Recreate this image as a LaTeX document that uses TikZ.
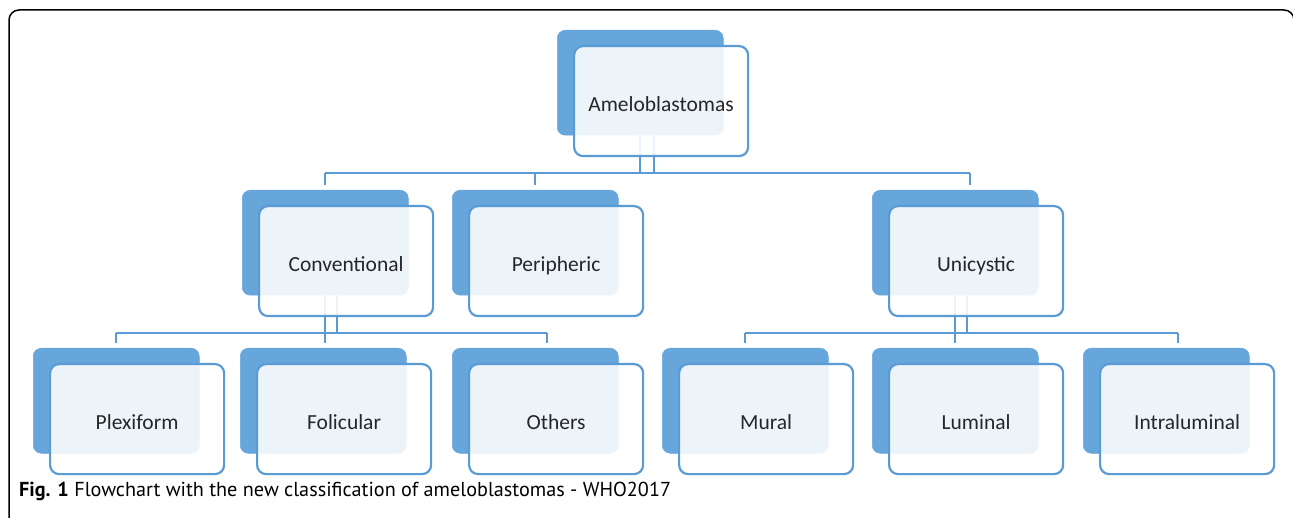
\documentclass[tikz,border=0pt]{standalone}
\usepackage{fontspec}
\setmainfont{Carlito}
\newfontfamily\capfont{PT Sans}
\definecolor{backblue}{RGB}{103,166,219}
\definecolor{lineblue}{RGB}{91,155,213}
\begin{document}
\begin{tikzpicture}[x=1pt,y=-1pt,
 backbox/.style={draw=backblue, fill=backblue, rounded corners=8pt, minimum width=166pt, minimum height=105pt, anchor=north west, inner sep=0pt, line width=0.5pt},
 frontbox/.style={draw=lineblue, line width=2.2pt, fill=white, fill opacity=0.88, text opacity=1, rounded corners=9pt, minimum width=174pt, minimum height=110pt, anchor=north west, inner sep=0pt, font=\fontsize{21.5}{24}\selectfont, text=black!85, text height=20pt, text depth=0pt},
 conn/.style={draw=lineblue, line width=2pt},
 drop/.style={conn, shorten >=5pt},
]
\useasboundingbox (0,0) rectangle (1293,518);
% outer frame
\draw[line width=1.5pt, rounded corners=10pt] (9,540) -- (9,10) -- (1294,10) -- (1294,540);

% back boxes
\node[backbox] (amb) at (557,30) {};
\node[backbox] (conb) at (242,190) {};
\node[backbox] (perb) at (452,190) {};
\node[backbox] (unib) at (872,190) {};
\node[backbox] (plxb) at (33,348) {};
\node[backbox] (folb) at (240,348) {};
\node[backbox] (othb) at (452,348) {};
\node[backbox] (murb) at (662,348) {};
\node[backbox] (lumb) at (872,348) {};
\node[backbox] (intb) at (1083,348) {};

% bus levels
\coordinate (bus1) at (0,173);
\coordinate (bus2) at (0,333);

% level 1 connectors
\draw[conn] (amb.south) -- (amb.south |- bus1);
\draw[conn] ([xshift=14pt]amb.south) -- ([xshift=14pt]amb.south |- bus1);
\draw[conn] (conb.north |- bus1) -- ([xshift=15pt]unib.north |- bus1);
\draw[drop] (conb.north |- bus1) -- (conb.north);
\draw[drop] (perb.north |- bus1) -- (perb.north);
\draw[drop] ([xshift=15pt]unib.north |- bus1) -- ([xshift=15pt]unib.north);

% level 2 connectors (left)
\draw[conn] (conb.south) -- (conb.south |- bus2);
\draw[conn] ([xshift=12pt]conb.south) -- ([xshift=12pt]conb.south |- bus2);
\draw[conn] (plxb.north |- bus2) -- ([xshift=12pt]othb.north |- bus2);
\draw[drop] (plxb.north |- bus2) -- (plxb.north);
\draw[drop] (conb.south |- bus2) -- (conb.south |- folb.north);
\draw[drop] ([xshift=12pt]othb.north |- bus2) -- ([xshift=12pt]othb.north);

% level 2 connectors (right)
\draw[conn] (unib.south) -- (unib.south |- bus2);
\draw[conn] ([xshift=12pt]unib.south) -- ([xshift=12pt]unib.south |- bus2);
\draw[conn] (murb.north |- bus2) -- ([xshift=12pt]intb.north |- bus2);
\draw[drop] (murb.north |- bus2) -- (murb.north);
\draw[drop] (lumb.north |- bus2) -- (lumb.north);
\draw[drop] ([xshift=12pt]intb.north |- bus2) -- ([xshift=12pt]intb.north);

% front boxes
\node[frontbox] (am) at (573,45) {Ameloblastomas};
\node[frontbox] (con) at (258,205) {Conventional};
\node[frontbox] (per) at (468,205) {Peripheric};
\node[frontbox] (uni) at (888,205) {Unicystic};
\node[frontbox] (plx) at (49,363) {Plexiform};
\node[frontbox] (fol) at (256,363) {Folicular};
\node[frontbox] (oth) at (468,363) {Others};
\node[frontbox] (mur) at (678,363) {Mural};
\node[frontbox] (lum) at (888,363) {Luminal};
\node[frontbox] (int) at (1099,363) {Intraluminal};

% caption
\node[anchor=base west, inner sep=0pt, font=\capfont\fontsize{20.2}{23}\selectfont] (cap) at (19,496) {\textbf{Fig. 1} Flowchart with the new classification of ameloblastomas - WHO2017};
\end{tikzpicture}
\end{document}
